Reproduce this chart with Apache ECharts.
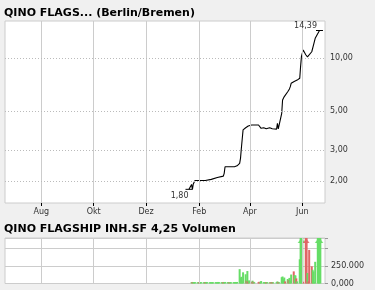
<!DOCTYPE html>
<html><head><meta charset="utf-8">
<script src="https://cdn.jsdelivr.net/npm/echarts@6/dist/echarts.min.js"></script>
<style>html,body{margin:0;padding:0;background:#f0f0f0;}#c{width:375px;height:290px;}</style>
</head><body><div id="c"></div>
<script>
const priceTitle = 'QINO FLAGS... (Berlin/Bremen)';
const volumeTitle = 'QINO FLAGSHIP INH.SF 4,25 Volumen';
const monthTicks = ['2022-08-01','2022-10-01','2022-12-01','2023-02-01','2023-04-01','2023-06-01'];
const monthLabels = ['Aug','Okt','Dez','Feb','Apr','Jun'];
const priceTickValues = [2, 3, 5, 10];
const priceTickLabels = ['2,00', '3,00', '5,00', '10,00'];
const volumeTickValues = [0, 250000];
const volumeTickLabels = ['0,000', '250.000'];

const priceDates = ['2023-01-20','2023-01-23','2023-01-24','2023-01-25','2023-01-26','2023-01-27',
 '2023-02-08','2023-02-09','2023-02-15','2023-02-16','2023-02-22','2023-02-23','2023-03-01','2023-03-02','2023-03-03',
 '2023-03-14','2023-03-15','2023-03-17','2023-03-20','2023-03-21','2023-03-22','2023-03-23','2023-03-24','2023-03-27','2023-03-30',
 '2023-04-03','2023-04-11','2023-04-13','2023-04-14','2023-04-17','2023-04-18','2023-04-19','2023-04-20','2023-04-21',
 '2023-04-24','2023-04-25','2023-04-26','2023-04-27','2023-04-28','2023-05-02','2023-05-03','2023-05-04','2023-05-05',
 '2023-05-08','2023-05-09','2023-05-11','2023-05-15','2023-05-17','2023-05-18','2023-05-19','2023-05-22','2023-05-24','2023-05-26',
 '2023-05-29','2023-05-30','2023-05-31','2023-06-01','2023-06-02','2023-06-05','2023-06-06','2023-06-07','2023-06-08','2023-06-09',
 '2023-06-12','2023-06-14','2023-06-16','2023-06-21','2023-06-22'];
const priceValues = [1.80,1.92,1.80,1.93,1.98,2.02,
 2.02,2.05,2.05,2.10,2.10,2.14,2.14,2.22,2.42,
 2.42,2.45,2.45,2.53,2.70,3.08,3.48,3.92,4.03,4.12,
 4.18,4.18,4.09,4.00,4.03,3.98,4.02,3.98,3.97,
 4.03,3.97,3.96,3.98,3.96,3.96,4.27,3.97,4.00,
 4.87,5.79,6.06,6.46,6.70,6.90,7.21,7.36,7.52,7.52,
 7.70,9.00,10.26,10.70,11.15,10.48,10.70,10.20,10.00,10.40,
 10.90,11.90,13.00,14.39,14.39];

const volumeDates = ['2023-01-23','2023-01-24','2023-01-25','2023-01-26','2023-01-27',
 '2023-01-30','2023-01-31','2023-02-01','2023-02-02','2023-02-03',
 '2023-02-06','2023-02-07','2023-02-08','2023-02-09','2023-02-10',
 '2023-02-13','2023-02-14','2023-02-15','2023-02-16','2023-02-17',
 '2023-02-20','2023-02-21','2023-02-22','2023-02-23','2023-02-24',
 '2023-02-27','2023-02-28','2023-03-01','2023-03-02','2023-03-03',
 '2023-03-06','2023-03-07','2023-03-08','2023-03-09','2023-03-10',
 '2023-03-13','2023-03-14','2023-03-15','2023-03-16','2023-03-17',
 '2023-03-20','2023-03-21','2023-03-22','2023-03-23','2023-03-24',
 '2023-03-27','2023-03-28','2023-03-29','2023-03-30','2023-03-31',
 '2023-04-03','2023-04-04','2023-04-05','2023-04-06',
 '2023-04-11','2023-04-12','2023-04-13','2023-04-14',
 '2023-04-17','2023-04-18','2023-04-19','2023-04-20','2023-04-21',
 '2023-04-24','2023-04-25','2023-04-26','2023-04-27','2023-04-28',
 '2023-05-02','2023-05-03','2023-05-04','2023-05-05',
 '2023-05-08','2023-05-09','2023-05-10','2023-05-11','2023-05-12',
 '2023-05-15','2023-05-16','2023-05-17','2023-05-18','2023-05-19',
 '2023-05-22','2023-05-23','2023-05-24','2023-05-25','2023-05-26',
 '2023-05-29','2023-05-30','2023-05-31','2023-06-01','2023-06-02',
 '2023-06-05','2023-06-06','2023-06-07','2023-06-08','2023-06-09',
 '2023-06-12','2023-06-13','2023-06-14','2023-06-15','2023-06-16',
 '2023-06-19','2023-06-20','2023-06-21','2023-06-22'];
const volumeValues = [20000,22000,20000,18000,20000,
 18000,20000,20000,18000,20000,
 18000,20000,20000,22000,20000,
 18000,20000,18000,20000,18000,
 20000,18000,20000,22000,20000,
 20000,18000,22000,20000,22000,
 20000,20000,18000,20000,18000,
 20000,20000,22000,20000,22000,
 205000,82000,96000,30000,160000,
 132000,41000,178000,30000,45000,
 25000,40000,25000,20000,
 20000,25000,20000,35000,
 20000,20000,18000,20000,20000,
 18000,20000,20000,20000,18000,
 20000,30000,20000,18000,
 90000,100000,60000,85000,30000,
 64000,50000,80000,40000,128000,
 173000,120000,115000,73000,30000,
 346000,900000,900000,900000,25000,
 900000,900000,150000,30000,480000,
 246000,196000,173000,20000,310000,
 900000,900000,900000,900000];
const volumeUp = [1,0,1,1,1, 1,1,0,1,1, 1,1,0,1,1, 1,1,1,1,1, 1,1,1,1,1, 1,1,0,1,1, 1,1,0,1,1, 1,1,1,1,1,
 1,1,1,1,1, 1,0,1,0,1, 0,1,0,1, 0,0,1,1, 1,1,1,0,1, 1,0,1,0,1, 1,1,0,1,
 1,1,1,1,0, 1,0,1,1,1, 0,1,1,0,1, 1,1,1,1,0, 0,0,1,0,0, 0,1,1,1,1, 1,1,1,1];

const T = s => +echarts.time.parse(s);
const xMin = T('2022-06-19 17:00');
const xMax = T('2023-06-27 10:00');
const tickTimes = monthTicks.map(T);
const FONT = '"DejaVu Sans", Verdana, sans-serif';
const GREEN = '#66dd66', RED = '#e06666';
const volMax = 650000;
const gridLineColor = '#cccccc';
const SMALL = 8;

const chart = echarts.init(document.getElementById('c'), null, {renderer: 'canvas'});
const xAxisBase = (gi, labels) => ({
  type: 'value', gridIndex: gi, min: xMin, max: xMax,
  axisLine: {show: false},
  axisTick: {show: labels, customValues: tickTimes, length: 3, lineStyle: {color: '#000'}},
  axisLabel: {show: labels, customValues: tickTimes,
    formatter: v => { const i = tickTimes.indexOf(v); return i >= 0 ? monthLabels[i] : ''; },
    fontFamily: FONT, fontSize: SMALL, color: '#333', margin: 5, hideOverlap: false},
  splitLine: {show: false}
});
const monthLines = {silent: true, symbol: 'none', animation: false,
  lineStyle: {color: gridLineColor, type: 'solid', width: 1}, label: {show: false},
  data: tickTimes.map(t => ({xAxis: t}))};

chart.setOption({
  backgroundColor: '#f0f0f0',
  animation: false,
  title: [
    {text: priceTitle, left: 4, top: 8, padding: 0, textStyle: {fontFamily: FONT, fontSize: 11, fontWeight: 'bold', color: '#000'}},
    {text: volumeTitle, left: 4, top: 224, padding: 0, textStyle: {fontFamily: FONT, fontSize: 11, fontWeight: 'bold', color: '#000'}}
  ],
  grid: [
    {left: 5, top: 21, width: 320, height: 182, show: true, backgroundColor: '#fff', borderColor: gridLineColor, borderWidth: 1},
    {left: 5, top: 238, width: 320, height: 45.5, show: true, backgroundColor: '#fff', borderColor: gridLineColor, borderWidth: 1}
  ],
  xAxis: [xAxisBase(0, true), xAxisBase(1, false)],
  yAxis: [
    {type: 'log', gridIndex: 0, logBase: 10, min: 1.505, max: 16.3,
      axisLine: {show: false}, axisTick: {show: false}, axisLabel: {show: false}, splitLine: {show: false}},
    {type: 'value', gridIndex: 1, position: 'right', min: 0, max: volMax, interval: 250000,
      axisLine: {show: false},
      axisTick: {show: true, length: 3, lineStyle: {color: '#999'}},
      axisLabel: {fontFamily: FONT, fontSize: SMALL, color: '#333', margin: 6,
        formatter: v => { const i = volumeTickValues.indexOf(v); return i >= 0 ? volumeTickLabels[i] : ''; }},
      splitLine: {show: true, lineStyle: {color: gridLineColor}}}
  ],
  series: [
    {type: 'line', xAxisIndex: 0, yAxisIndex: 0, data: [], z: 1, markLine: monthLines},
    {type: 'line', xAxisIndex: 0, yAxisIndex: 0, symbol: 'none', z: 3,
      lineStyle: {color: '#000', width: 1.1},
      data: priceDates.map((d, i) => [T(d), priceValues[i]]),
      markLine: {silent: true, symbol: 'none', animation: false,
        lineStyle: {color: '#bbbbbb', type: [1, 2], width: 1},
        label: {position: 'end', distance: 5, fontFamily: FONT, fontSize: SMALL, color: '#333',
          formatter: p => priceTickLabels[priceTickValues.indexOf(p.value)]},
        data: priceTickValues.map(v => ({yAxis: v}))},
      markPoint: {symbol: 'rect', symbolSize: [7, 1], itemStyle: {color: '#000'}, silent: true,
        label: {show: true, position: 'left', distance: 0, fontFamily: FONT, fontSize: SMALL, color: '#333',
          formatter: p => Number(p.value).toFixed(2).replace('.', ',')},
        data: [
          {type: 'min', valueIndex: 1, label: {offset: [3, 7]}},
          {type: 'max', valueIndex: 1, label: {offset: [1, -5]}}
        ]}
    },
    {type: 'line', xAxisIndex: 1, yAxisIndex: 1, data: [], z: 1, markLine: monthLines},
    {type: 'bar', xAxisIndex: 1, yAxisIndex: 1, barWidth: 2, z: 3,
      data: volumeDates.map((d, i) => ({value: [T(d), volumeValues[i]], itemStyle: {color: volumeUp[i] ? GREEN : RED}}))},
    {type: 'scatter', xAxisIndex: 1, yAxisIndex: 1, symbol: 'triangle', symbolSize: [6, 4], symbolOffset: [0, 3], z: 4, silent: true,
      data: volumeDates.map((d, i) => ({d, i})).filter(o => volumeValues[o.i] > volMax)
        .map(o => ({value: [T(o.d), volMax], itemStyle: {color: volumeUp[o.i] ? GREEN : RED}}))}
  ]
});
</script>
</body></html>
